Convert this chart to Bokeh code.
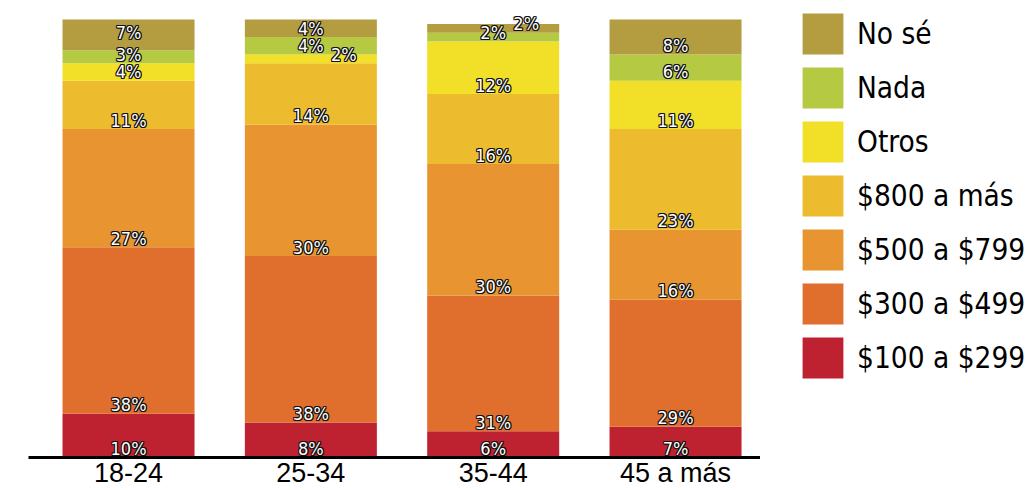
from bokeh.plotting import figure
from bokeh.models import ColumnDataSource, Range1d, FixedTicker, Legend, LegendItem
from bokeh.layouts import row
from bokeh.core.properties import value
from bokeh.embed import file_html
from bokeh.resources import INLINE

categories = ["18-24", "25-34", "35-44", "45 a más"]
series = ["$100 a $299", "$300 a $499", "$500 a $799", "$800 a más", "Otros", "Nada", "No sé"]
v100 = [10, 8, 6, 7]
v300 = [38, 38, 31, 29]
v500 = [27, 30, 30, 16]
v800 = [11, 14, 16, 23]
otros = [4, 2, 12, 11]
nada = [3, 4, 2, 6]
nose = [7, 4, 2, 8]
colors = ["#be2130", "#e06f2e", "#e89531", "#ecbb2e", "#f2df27", "#b5c943", "#b39d40"]

values = [v100, v300, v500, v800, otros, nada, nose]
keys = ["s%d" % i for i in range(len(series))]
xs = list(range(len(categories)))
data = {"x": xs}
for k, v in zip(keys, values):
    data[k] = v
src = ColumnDataSource(data)

p = figure(width=760, height=490,
           x_range=Range1d(-0.5486, 3.466), y_range=Range1d(0, 104.35),
           output_backend="svg", toolbar_location=None, y_axis_location=None,
           min_border_left=28, min_border_right=0, min_border_top=0, min_border_bottom=0)
p.outline_line_color = None
p.xgrid.visible = False
p.ygrid.visible = False

rends = p.vbar_stack(keys, x="x", width=0.724, color=colors, source=src, line_color=None)

# percentage labels sitting on the base of each segment;
# crowded labels are pushed sideways (tiny segment) or nudged up
lx, ly, lt, lo = [], [], [], []
for j in xs:
    vals = [v[j] for v in values]
    bases = []
    acc = 0
    for v in vals:
        bases.append(acc)
        acc += v
    shifted = [False] * len(vals)
    ypos = list(bases)
    for i in range(len(vals)):
        if i + 1 < len(vals) and bases[i + 1] - bases[i] < 3 and vals[i] < vals[i + 1]:
            shifted[i] = True
        if i > 0 and bases[i] - bases[i - 1] < 3 and not shifted[i - 1] and vals[i] <= vals[i - 1]:
            shifted[i] = True
        if i > 0 and not shifted[i] and not shifted[i - 1] and 3 <= ypos[i] - ypos[i - 1] < 4:
            ypos[i] = ypos[i - 1] + 5
    for i, v in enumerate(vals):
        lx.append(j)
        ly.append(ypos[i])
        lt.append("%d%%" % v)
        lo.append(33 if shifted[i] else 0)

lab_font = value("DejaVu Sans Condensed")
base_dy = -9
for dx, dy in [(-1, -1), (0, -1), (1, -1), (-1, 0), (1, 0), (-1, 1), (0, 1), (1, 1)]:
    hsrc = ColumnDataSource(dict(x=lx, y=ly, t=lt, o=[o + dx for o in lo]))
    p.text(x="x", y="y", text="t", x_offset="o", y_offset=base_dy + dy, source=hsrc,
           text_align="center", text_baseline="alphabetic",
           text_font=lab_font, text_font_size="18px", text_color="#111111")
lsrc = ColumnDataSource(dict(x=lx, y=ly, t=lt, o=lo))
p.text(x="x", y="y", text="t", x_offset="o", y_offset=base_dy, source=lsrc,
       text_align="center", text_baseline="alphabetic",
       text_font=lab_font, text_font_size="18px", text_color="white")

ax = p.xaxis[0]
ax.ticker = FixedTicker(ticks=xs)
ax.major_label_overrides = {i: c for i, c in zip(xs, categories)}
ax.major_tick_line_color = None
ax.minor_tick_line_color = None
ax.major_tick_out = 0
ax.major_tick_in = 0
ax.axis_line_color = "black"
ax.axis_line_width = 3
ax.major_label_standoff = 0
ax.major_label_text_font = "Liberation Sans"
ax.major_label_text_font_size = "27px"
ax.major_label_text_color = "black"

# legend panel
p2 = figure(width=269, height=490, output_backend="svg", toolbar_location=None,
            x_axis_location=None, y_axis_location=None,
            min_border_left=0, min_border_right=0, min_border_top=0, min_border_bottom=0)
p2.outline_line_color = None
p2.xgrid.visible = False
p2.ygrid.visible = False
lrends = p2.vbar_stack(keys, x="x", width=0.724, color=colors, source=src, line_color=None)
for r in lrends:
    r.visible = False
items = [LegendItem(label=series[i], renderers=[lrends[i]]) for i in reversed(range(len(series)))]
legend = Legend(items=items, location=(37, 74), orientation="vertical",
                glyph_width=51, glyph_height=51, spacing=3, label_standoff=9,
                padding=0, margin=0, border_line_color=None, background_fill_alpha=0,
                inactive_fill_alpha=0,
                label_text_font="DejaVu Sans Condensed", label_text_font_size="29.5px",
                label_text_color="black")
p2.add_layout(legend, "center")

open("out.html", "w").write(file_html(row(p, p2), INLINE))
